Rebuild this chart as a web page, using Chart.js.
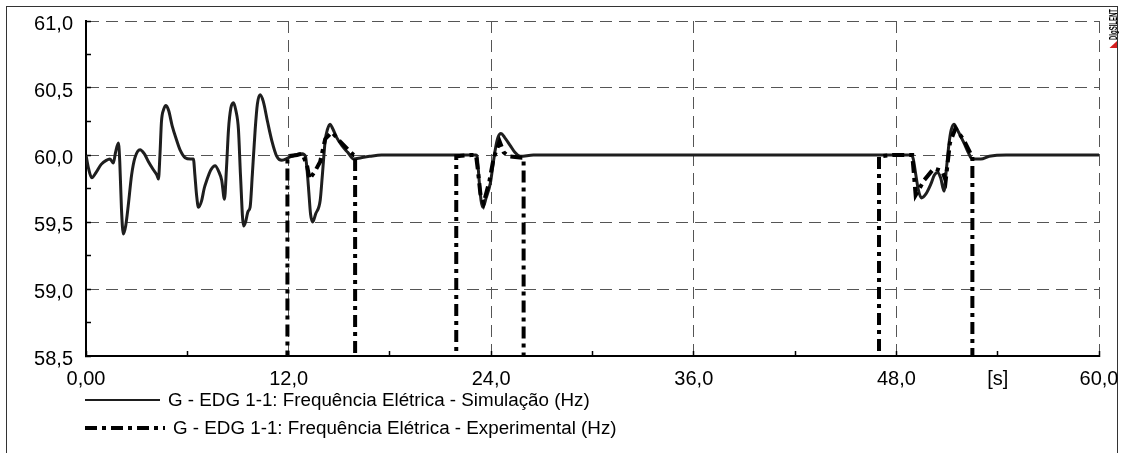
<!DOCTYPE html>
<html>
<head>
<meta charset="utf-8">
<script src="https://cdn.jsdelivr.net/npm/chart.js@4.4.1/dist/chart.umd.min.js"></script>
<style>
  html, body { margin: 0; padding: 0; background: #fff; overflow: hidden; }
  canvas { display: block; }
</style>
</head>
<body>
<canvas id="c" width="1125" height="453"></canvas>
<script>
// Simulated generator frequency (Hz) against time (s)
const simTime = [
  0.00, 0.15, 0.34, 0.60, 0.90, 1.20, 1.42, 1.62, 1.75, 1.92, 2.00, 2.10, 2.21, 2.35, 2.50, 2.70, 2.90,
  3.20, 3.45, 3.70, 3.99, 4.20, 4.29, 4.38, 4.47, 4.60, 4.74, 4.90, 5.10, 5.37, 5.60, 5.87, 6.20, 6.36,
  6.45, 6.55, 6.66, 6.85, 7.00, 7.15, 7.40, 7.65, 7.85, 8.04, 8.20, 8.32, 8.44, 8.58, 8.73, 8.88, 9.03,
  9.15, 9.33, 9.45, 9.60, 9.72, 9.85, 10.02, 10.15, 10.31, 10.50, 10.75, 11.00, 11.30, 11.60, 12.00,
  12.40, 12.80, 13.00, 13.10, 13.20, 13.30, 13.43, 13.60, 13.87, 14.00, 14.17, 14.30, 14.46, 14.60,
  14.85, 15.16, 15.50, 15.85, 16.30, 16.80, 17.50, 20.00, 23.10, 23.16, 23.30, 23.40, 23.51, 23.70,
  23.95, 24.10, 24.24, 24.40, 24.58, 24.80, 25.13, 25.40, 25.73, 26.50, 35.00, 48.90, 49.00, 49.14,
  49.30, 49.48, 49.75, 50.03, 50.25, 50.43, 50.62, 50.82, 50.95, 51.12, 51.25, 51.41, 51.60, 52.00,
  52.25, 52.50, 53.00, 53.50, 54.50, 60.00
];
const simFreq = [
  60.00, 59.90, 59.83, 59.87, 59.93, 59.96, 59.97, 59.94, 60.02, 60.09, 59.95, 59.60, 59.41, 59.47, 59.62, 59.85, 59.98,
  60.04, 60.01, 59.95, 59.89, 59.85, 59.82, 60.00, 60.25, 60.34, 60.37, 60.33, 60.22, 60.11, 60.03, 59.98, 59.97, 59.97,
  59.85, 59.70, 59.61, 59.66, 59.75, 59.81, 59.89, 59.92, 59.88, 59.81, 59.67, 59.90, 60.19, 60.35, 60.39, 60.33, 60.19,
  59.85, 59.47, 59.50, 59.58, 59.61, 59.85, 60.19, 60.38, 60.45, 60.40, 60.25, 60.11, 59.99, 59.96, 59.98,
  60.00, 60.01, 59.99, 59.88, 59.72, 59.56, 59.50, 59.56, 59.66, 59.85, 60.11, 60.19, 60.23, 60.20,
  60.13, 60.07, 60.02, 59.97, 59.98, 59.99, 60.00, 60.00, 60.00, 59.99, 59.79, 59.66, 59.61, 59.68,
  59.79, 59.92, 60.04, 60.13, 60.16, 60.13, 60.07, 60.02, 59.99, 60.00, 60.00, 60.00, 59.97, 59.86,
  59.74, 59.68, 59.71, 59.78, 59.85, 59.87, 59.83, 59.73, 59.88, 60.09, 60.19, 60.23, 60.19, 60.09,
  60.02, 59.97, 59.97, 59.99, 60.00, 60.00
];

// Measured frequency (Hz); 0 where the recorder had no signal
const expTime = [
  0.00, 11.93, 11.93, 12.50, 12.80, 13.08, 13.24, 13.57, 13.87, 14.17, 14.56, 15.06, 15.45, 15.85, 15.94, 15.94,
  21.93, 21.93, 22.80, 23.10, 23.20, 23.36, 23.55, 23.90, 24.15, 24.50, 24.74, 25.03, 25.83, 25.92, 25.92,
  46.97, 46.97, 47.80, 48.94, 49.14, 49.63, 50.22, 50.72, 50.92, 51.17, 51.50, 52.00, 52.40, 52.50, 52.50,
  60.00
];
const expFreq = [
  0, 0, 59.99, 60.00, 60.01, 59.93, 59.82, 59.88, 59.95, 60.12, 60.17, 60.10, 60.05, 60.00, 60.00, 0,
  0, 59.99, 60.00, 60.00, 59.90, 59.71, 59.64, 59.81, 59.98, 60.10, 60.02, 59.99, 59.98, 59.98, 0,
  0, 59.99, 60.00, 60.00, 59.70, 59.81, 59.90, 59.88, 59.81, 60.09, 60.20, 60.11, 60.01, 60.00, 0,
  0
];

// Axis ticks and their labels
const xMajorTicks = [0, 12, 24, 36, 48, 60];
const xTickLabels = ['0,00', '12,0', '24,0', '36,0', '48,0', '60,0'];
const xUnitTick = 54;
const xUnitLabel = '[s]';
const yMajorTicks = [58.5, 59.0, 59.5, 60.0, 60.5, 61.0];
const yTickLabels = ['58,5', '59,0', '59,5', '60,0', '60,5', '61,0'];

const seriesLabels = [
  'G - EDG 1-1: Frequência Elétrica - Simulação (Hz)',
  'G - EDG 1-1: Frequência Elétrica - Experimental (Hz)'
];
const brandText = 'DIgSILENT';

const FONT = '"Liberation Sans", Arial, sans-serif';

function majorIndex(list, v) {
  return list.findIndex(m => Math.abs(m - v) < 1e-6);
}
function toPoints(xs, ys) {
  return xs.map((x, i) => ({ x: x, y: ys[i] }));
}
// keep the plot rectangle fixed: no extra room for overhanging end labels
function noOverhang(scale) {
  scale.paddingLeft = 0;
  scale.paddingRight = 0;
  scale.paddingTop = 0;
  scale.paddingBottom = 0;
}

// Frame, brand mark and the legend under the plot
const decorations = {
  id: 'decorations',
  beforeDraw(chart) {
    const ctx = chart.ctx;
    ctx.save();
    ctx.fillStyle = '#fff';
    ctx.fillRect(0, 0, chart.width, chart.height);
    ctx.strokeStyle = '#333';
    ctx.lineWidth = 1;
    ctx.strokeRect(6.5, 6.5, 1111, 470);
    ctx.restore();
  },
  afterDraw(chart) {
    const ctx = chart.ctx;
    ctx.save();
    // brand mark, written bottom-to-top in the top-right corner
    ctx.fillStyle = '#d42020';
    ctx.beginPath();
    ctx.moveTo(1109.5, 48);
    ctx.lineTo(1117, 48);
    ctx.lineTo(1117, 41);
    ctx.closePath();
    ctx.fill();
    ctx.translate(1117, 40);
    ctx.rotate(-Math.PI / 2);
    ctx.fillStyle = '#000';
    ctx.font = 'bold 10px ' + FONT;
    ctx.textAlign = 'left';
    ctx.textBaseline = 'alphabetic';
    ctx.fillText(brandText, 0, 0, 31);
    ctx.restore();

    // legend rows
    const rows = [
      { y: 400, x0: 85, x1: 160, w: 2 },
      { y: 428, x0: 85, x1: 165, w: 4 }
    ];
    chart.data.datasets.forEach((ds, i) => {
      const r = rows[i];
      ctx.save();
      ctx.strokeStyle = ds.borderColor;
      ctx.lineWidth = r.w;
      ctx.setLineDash(ds.borderDash || []);
      ctx.beginPath();
      ctx.moveTo(r.x0, r.y);
      ctx.lineTo(r.x1, r.y);
      ctx.stroke();
      ctx.setLineDash([]);
      ctx.fillStyle = '#000';
      ctx.font = '18.8px ' + FONT;
      ctx.textAlign = 'left';
      ctx.textBaseline = 'middle';
      ctx.fillText(ds.label, r.x1 + 8, r.y + 1);
      ctx.restore();
    });
  }
};

new Chart(document.getElementById('c'), {
  type: 'line',
  data: {
    datasets: [
      {
        label: seriesLabels[0],
        data: toPoints(simTime, simFreq),
        borderColor: '#1e1e1e',
        borderWidth: 3,
        pointRadius: 0,
        cubicInterpolationMode: 'monotone',
        order: 1
      },
      {
        label: seriesLabels[1],
        data: toPoints(expTime, expFreq),
        borderColor: '#000',
        borderWidth: 4,
        borderDash: [12, 5, 4, 5],
        pointRadius: 0,
        tension: 0,
        order: 0
      }
    ]
  },
  options: {
    responsive: false,
    animation: false,
    devicePixelRatio: 1,
    layout: { padding: { left: 0, top: 21, right: 26, bottom: 0 } },
    plugins: { legend: { display: false }, tooltip: { enabled: false } },
    scales: {
      x: {
        type: 'linear',
        min: 0,
        max: 60,
        afterFit(scale) { scale.height = 97; noOverhang(scale); },
        afterBuildTicks(scale) {
          const t = [];
          for (let v = 0; v <= 60; v += 6) t.push({ value: v });
          scale.ticks = t;
        },
        ticks: {
          autoSkip: false,
          maxRotation: 0,
          color: '#000',
          font: { family: FONT, size: 20 },
          padding: 16,
          callback(v) {
            const k = majorIndex(xMajorTicks, v);
            if (k >= 0) return xTickLabels[k];
            if (Math.abs(v - xUnitTick) < 1e-6) return xUnitLabel;
            return '';
          }
        },
        grid: {
          color(c) {
            return c.tick && majorIndex(xMajorTicks, c.tick.value) >= 0 ? '#555' : 'rgba(0,0,0,0)';
          },
          lineWidth: 1,
          drawTicks: true,
          tickLength: -5,
          tickColor: '#000',
          tickWidth: 1.5
        },
        border: { display: true, color: '#000', width: 2, dash: [12, 7] }
      },
      y: {
        type: 'linear',
        min: 58.5,
        max: 61,
        afterFit(scale) { scale.width = 86; noOverhang(scale); },
        afterBuildTicks(scale) {
          const t = [];
          for (let k = 0; k <= 10; k++) t.push({ value: 58.5 + k * 0.25 });
          scale.ticks = t;
        },
        ticks: {
          autoSkip: false,
          color: '#000',
          font: { family: FONT, size: 20 },
          padding: 18,
          labelOffset: 3,
          callback(v) {
            const k = majorIndex(yMajorTicks, v);
            return k >= 0 ? yTickLabels[k] : '';
          }
        },
        grid: {
          color(c) {
            return c.tick && majorIndex(yMajorTicks, c.tick.value) >= 0 ? '#555' : 'rgba(0,0,0,0)';
          },
          lineWidth: 1,
          drawTicks: true,
          tickLength: -5,
          tickColor: '#000',
          tickWidth: 1.5
        },
        border: { display: true, color: '#000', width: 2, dash: [12, 7] }
      }
    }
  },
  plugins: [decorations]
});
</script>
</body>
</html>
